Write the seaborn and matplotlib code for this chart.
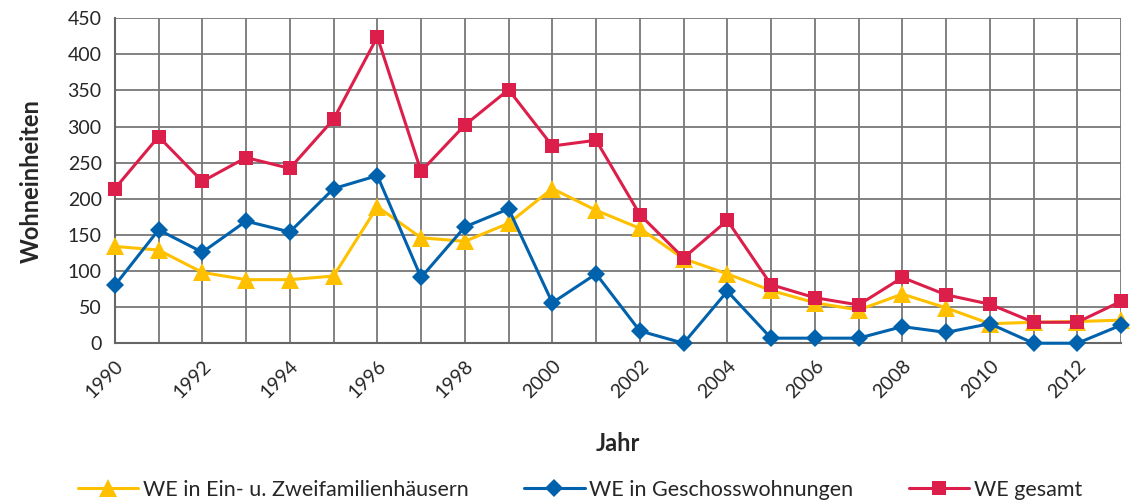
import pandas as pd
import seaborn as sns
import matplotlib.pyplot as plt

# === DATA ===
years = list(range(1990, 2014))
ein_zwei = [134, 129, 98, 88, 88, 93, 189, 146, 141, 166, 214, 184,
            159, 117, 96, 73, 56, 46, 68, 49, 27, 29, 30, 32]
geschoss = [80, 157, 126, 169, 154, 214, 232, 91, 161, 186, 56, 96,
            17, 0, 72, 7, 7, 7, 23, 15, 27, 0, 0, 25]
gesamt = [214, 286, 224, 257, 242, 310, 424, 238, 302, 351, 273, 281,
          178, 118, 170, 81, 63, 53, 91, 67, 54, 29, 29, 58]

series_names = ["WE in Ein- u. Zweifamilienhäusern",
                "WE in Geschosswohnungen",
                "WE gesamt"]
colors = ["#FFC000", "#0062AC", "#DC1F4A"]
markers = ["^", "D", "s"]
marker_sizes = [13, 9, 10.5]

df = pd.DataFrame({
    "Jahr": years * 3,
    "Wohneinheiten": ein_zwei + geschoss + gesamt,
    "Serie": [series_names[0]] * len(years) + [series_names[1]] * len(years)
             + [series_names[2]] * len(years),
})

# === Plot ===
sns.set_style("white")
plt.rcParams["font.family"] = ["Lato", "DejaVu Sans"]

fig = plt.figure(figsize=(11.37, 5.04), dpi=100)
ax = fig.add_axes([0.101, 0.319, 0.885, 0.645])

sns.lineplot(
    data=df, x="Jahr", y="Wohneinheiten", hue="Serie", style="Serie",
    palette=dict(zip(series_names, colors)),
    markers=dict(zip(series_names, markers)),
    dashes=False, linewidth=2.2, markeredgewidth=0,
    ax=ax, legend=True,
)
for line, ms in zip(ax.lines, marker_sizes):
    line.set_markersize(ms)
    line.set_clip_on(False)
    line.set_zorder(3)

ax.set_xlim(1990, 2013)
ax.set_ylim(0, 450)
ax.set_yticks(range(0, 451, 50))
ax.set_xticks(years)
ax.set_xticklabels([str(y) if y % 2 == 0 else "" for y in years],
                   rotation=45, ha="right", rotation_mode="anchor")
ax.tick_params(axis="both", labelsize=14, length=6, width=1.2,
               color="#777777", direction="out")
ax.tick_params(axis="x", pad=4)
ax.grid(True, color="#777777", linewidth=1.3)
ax.set_axisbelow(True)
for side in ["top", "right"]:
    ax.spines[side].set_visible(False)
for side in ["left", "bottom"]:
    ax.spines[side].set_color("#666666")
    ax.spines[side].set_linewidth(1.5)

ax.set_xlabel("Jahr", fontsize=17, fontweight="bold", labelpad=22)
ax.set_ylabel("Wohneinheiten", fontsize=17, fontweight="bold", labelpad=18)

handles, labels = ax.get_legend_handles_labels()
leg = ax.legend(handles, labels, loc="center",
                bbox_to_anchor=(0.51, 1 - 490 / 504),
                bbox_transform=fig.transFigure, frameon=False, ncol=3,
                fontsize=15.5, handlelength=2.8, columnspacing=2.6,
                handletextpad=0.2)
for h, ms in zip(leg.legend_handles, marker_sizes):
    h.set_markersize(ms)

fig.savefig("out.png", dpi=100)
